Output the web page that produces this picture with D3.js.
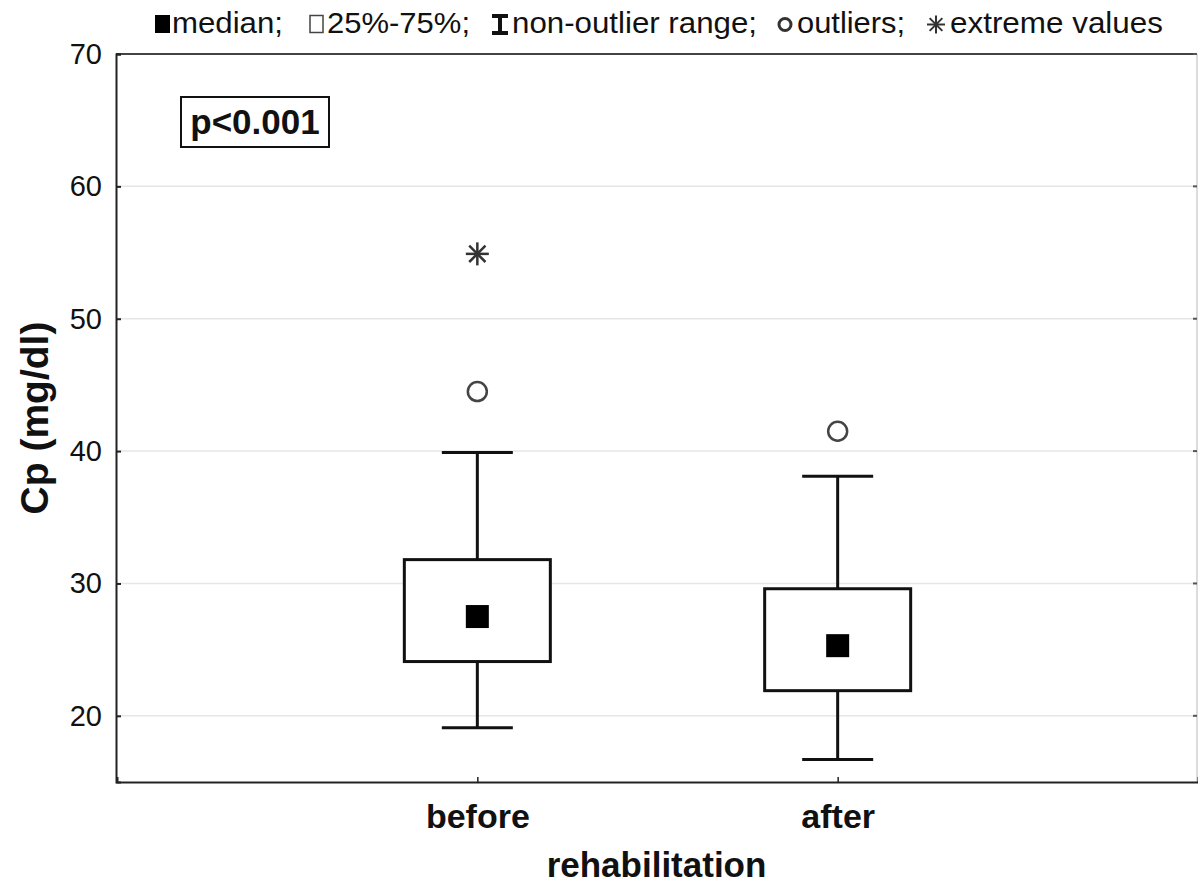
<!DOCTYPE html>
<html><head><meta charset="utf-8">
<script src="https://cdn.jsdelivr.net/npm/d3@7"></script>
<style>
html,body{margin:0;padding:0;background:#fff;}
svg{display:block;font-family:"Liberation Sans",Arial,sans-serif;}
</style></head>
<body>
<svg id="chart" width="1198" height="888"></svg>
<script>
// ---- data ----
const categories = ["before", "after"];
const q1 = [24.1, 21.9];
const median = [27.5, 25.3];
const q3 = [31.8, 29.6];
const whiskerLow = [19.1, 16.7];
const whiskerHigh = [39.9, 38.1];
const outliers = [[44.5], [41.5]];
const extremes = [[54.9], []];
const yTicks = [20, 30, 40, 50, 60, 70];
const legendLabels = ["median;", "25%-75%;", "non-outlier range;", "outliers;", "extreme values"];
const pText = "p<0.001";
const xTitle = "rehabilitation";
const yTitle = "Cp (mg/dl)";

// ---- layout ----
const L = 116, R = 1197, T = 54, B = 782;
const svg = d3.select("#chart");
const y = d3.scaleLinear().domain([15, 70]).range([B, T]);
const x = d3.scalePoint().domain(categories).range([L + 1, R + 1]).padding(1);

// grid
svg.append("g").selectAll("line").data(yTicks.filter(t => t < 70)).join("line")
  .attr("x1", L).attr("x2", R).attr("y1", d => y(d)).attr("y2", d => y(d))
  .attr("stroke", "#e6e6e6").attr("stroke-width", 1.5);

// frame
svg.append("line").attr("x1", L).attr("x2", R).attr("y1", T).attr("y2", T).attr("stroke", "#444").attr("stroke-width", 2);
svg.append("line").attr("x1", R).attr("x2", R).attr("y1", T).attr("y2", B).attr("stroke", "#d0d0d0").attr("stroke-width", 1.5);

// y axis
const yAxis = d3.axisLeft(y).tickValues(yTicks).tickSize(-5).tickPadding(14).tickFormat(d3.format("d"));
const gy = svg.append("g").attr("transform", `translate(${L},0)`).call(yAxis);
gy.select(".domain").attr("stroke", "#222").attr("stroke-width", 2);
gy.selectAll(".tick line").attr("stroke", "#222").attr("stroke-width", 2);
gy.selectAll(".tick text").attr("font-size", 29).attr("fill", "#111")
  .attr("font-family", "'Liberation Sans',Arial,sans-serif");

// right ticks
svg.append("g").selectAll("line").data(yTicks).join("line")
  .attr("x1", R - 4).attr("x2", R).attr("y1", d => y(d)).attr("y2", d => y(d))
  .attr("stroke", "#555").attr("stroke-width", 2);

// x axis
const xAxis = d3.axisBottom(x).tickSize(-5).tickPadding(22);
const gx = svg.append("g").attr("transform", `translate(0,${B})`).call(xAxis);
gx.select(".domain").attr("stroke", "#222").attr("stroke-width", 2);
gx.selectAll(".tick line").attr("stroke", "#222").attr("stroke-width", 1.5);
gx.selectAll(".tick text").attr("font-size", 34).attr("font-weight", "bold").attr("fill", "#111")
  .attr("font-family", "'Liberation Sans',Arial,sans-serif").attr("dy", "0.71em");

// axis titles
svg.append("text").attr("x", (L + R) / 2).attr("y", 877).attr("text-anchor", "middle")
  .attr("font-size", 35).attr("font-weight", "bold").attr("fill", "#111").text(xTitle);
svg.append("text").attr("transform", "translate(48,418) rotate(-90)").attr("text-anchor", "middle")
  .attr("font-size", 39).attr("font-weight", "bold").attr("fill", "#111").text(yTitle);

// boxes
const boxHalf = 73, capHalf = 35.5, medHalf = 11.5;
const g = svg.append("g");
categories.forEach((c, i) => {
  const cx = x(c);
  g.append("line").attr("x1", cx).attr("x2", cx).attr("y1", y(whiskerHigh[i])).attr("y2", y(q3[i]))
    .attr("stroke", "#111").attr("stroke-width", 3);
  g.append("line").attr("x1", cx).attr("x2", cx).attr("y1", y(q1[i])).attr("y2", y(whiskerLow[i]))
    .attr("stroke", "#111").attr("stroke-width", 3);
  [whiskerHigh[i], whiskerLow[i]].forEach(v => {
    g.append("line").attr("x1", cx - capHalf).attr("x2", cx + capHalf).attr("y1", y(v)).attr("y2", y(v))
      .attr("stroke", "#111").attr("stroke-width", 3);
  });
  g.append("rect").attr("x", cx - boxHalf).attr("y", y(q3[i])).attr("width", boxHalf * 2)
    .attr("height", y(q1[i]) - y(q3[i])).attr("fill", "#fff").attr("stroke", "#111").attr("stroke-width", 3);
  g.append("rect").attr("x", cx - medHalf).attr("y", y(median[i]) - medHalf)
    .attr("width", medHalf * 2).attr("height", medHalf * 2).attr("fill", "#000");
  outliers[i].forEach(v => {
    g.append("circle").attr("cx", cx).attr("cy", y(v)).attr("r", 9.5)
      .attr("fill", "none").attr("stroke", "#444").attr("stroke-width", 2.5);
  });
  extremes[i].forEach(v => {
    const s = g.append("g").attr("transform", `translate(${cx},${y(v)})`);
    const r = 11.5;
    [0, 45, 90, 135].forEach(a => {
      const rad = a * Math.PI / 180;
      s.append("line").attr("x1", -r * Math.cos(rad)).attr("y1", -r * Math.sin(rad))
        .attr("x2", r * Math.cos(rad)).attr("y2", r * Math.sin(rad))
        .attr("stroke", "#333").attr("stroke-width", 2.5);
    });
  });
});

// p-value box
svg.append("rect").attr("x", 181).attr("y", 97).attr("width", 148).attr("height", 50)
  .attr("fill", "#fff").attr("stroke", "#111").attr("stroke-width", 2);
svg.append("text").attr("x", 255).attr("y", 134).attr("text-anchor", "middle")
  .attr("font-size", 35).attr("font-weight", "bold").attr("fill", "#111").text(pText);

// legend
const lg = svg.append("g");
const lx = [172, 327, 512, 797, 950];
const lw = [111, 143, 245, 108, 213];
const ly = 33;
legendLabels.forEach((t, i) => {
  lg.append("text").attr("x", lx[i]).attr("y", ly).attr("font-size", 30).attr("fill", "#111")
    .attr("textLength", lw[i]).attr("lengthAdjust", "spacingAndGlyphs").text(t);
});
lg.append("rect").attr("x", 155).attr("y", 15).attr("width", 15).attr("height", 18).attr("fill", "#000");
lg.append("rect").attr("x", 310).attr("y", 15.5).attr("width", 13).attr("height", 17)
  .attr("fill", "none").attr("stroke", "#444").attr("stroke-width", 1.5);
const ib = lg.append("g").attr("stroke", "#111").attr("stroke-width", 4);
ib.append("line").attr("x1", 500).attr("x2", 500).attr("y1", 16).attr("y2", 33);
ib.append("line").attr("x1", 492).attr("x2", 508).attr("y1", 16).attr("y2", 16);
ib.append("line").attr("x1", 492).attr("x2", 508).attr("y1", 33).attr("y2", 33);
lg.append("circle").attr("cx", 785).attr("cy", 24.5).attr("r", 6)
  .attr("fill", "none").attr("stroke", "#333").attr("stroke-width", 3);
const st = lg.append("g").attr("transform", "translate(936,24.5)");
[0, 45, 90, 135].forEach(a => {
  const rad = a * Math.PI / 180, r = 9;
  st.append("line").attr("x1", -r * Math.cos(rad)).attr("y1", -r * Math.sin(rad))
    .attr("x2", r * Math.cos(rad)).attr("y2", r * Math.sin(rad))
    .attr("stroke", "#333").attr("stroke-width", 2);
});
</script>
</body></html>
